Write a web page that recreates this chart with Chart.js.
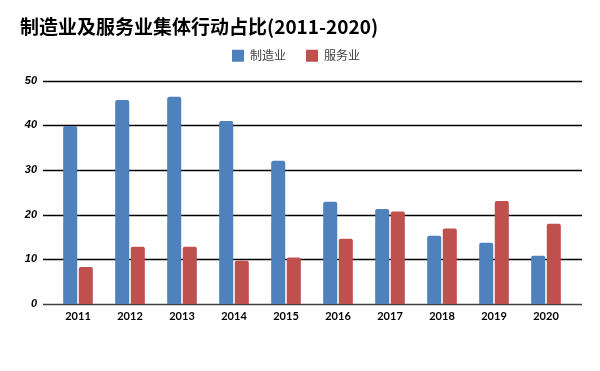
<!DOCTYPE html>
<html>
<head>
<meta charset="utf-8">
<script src="https://cdn.jsdelivr.net/npm/chart.js@4"></script>
<style>
  html, body { margin: 0; padding: 0; background: #fff; }
  #wrap { width: 600px; height: 371px; position: relative; }
</style>
</head>
<body>
<div id="wrap"><canvas id="myBarChart"></canvas></div>
<script>
const years = ['2011', '2012', '2013', '2014', '2015', '2016', '2017', '2018', '2019', '2020'];
const manufacturing = [39.9, 45.7, 46.4, 41.0, 32.1, 22.9, 21.3, 15.3, 13.7, 10.8];
const services = [8.3, 12.8, 12.8, 9.7, 10.4, 14.6, 20.7, 16.9, 23.1, 18.0];
const yTicks = [0, 10, 20, 30, 40, 50];

const cjk = '"Noto Sans CJK SC", "Noto Sans", sans-serif';
const latin = 'Lato, "Liberation Sans", sans-serif';

// gridlines in the reference run a bit past the bars on both sides
const gridPlugin = {
  id: 'wideGrid',
  beforeLayout(chart) {
    // extra room under the legend, like the original
    const lg = chart.legend;
    if (lg && !lg._extra) {
      const fit = lg.fit;
      lg.fit = function() { fit.call(this); this.height += 9; };
      lg._extra = true;
    }
  },
  beforeDatasetsDraw(chart) {
    const ctx = chart.ctx;
    const area = chart.chartArea;
    const y = chart.scales.y;
    ctx.save();
    yTicks.forEach(v => {
      const py = Math.round(y.getPixelForValue(v)) + 0.5;
      ctx.beginPath();
      ctx.lineWidth = 1.5;
      ctx.strokeStyle = v === 0 ? '#404040' : '#000000';
      ctx.moveTo(area.left - 9, py);
      ctx.lineTo(area.right + 10, py);
      ctx.stroke();
    });
    ctx.restore();
  }
};

const ctx = document.getElementById('myBarChart').getContext('2d');
const myBarChart = new Chart(ctx, {
  type: 'bar',
  data: {
    labels: years,
    datasets: [{
      label: '制造业',
      data: manufacturing,
      backgroundColor: '#4F81BD',
      borderRadius: { topLeft: 2, topRight: 2 },
      borderSkipped: 'bottom'
    }, {
      label: '服务业',
      data: services,
      backgroundColor: '#C0504D',
      borderRadius: { topLeft: 2, topRight: 2 },
      borderSkipped: 'bottom'
    }]
  },
  plugins: [gridPlugin],
  options: {
    responsive: true,
    maintainAspectRatio: false,
    animation: false,
    categoryPercentage: 0.6,
    barPercentage: 0.9,
    layout: { padding: { left: 20, right: 28, top: 0, bottom: 47 } },
    plugins: {
      title: {
        display: true,
        text: '制造业及服务业集体行动占比(2011-2020)',
        align: 'start',
        color: '#000',
        font: { family: cjk, size: 19, weight: 'bold' },
        padding: { top: 15, bottom: -8 }
      },
      legend: {
        display: true,
        position: 'top',
        labels: {
          boxWidth: 12,
          boxHeight: 12,
          padding: 20,
          color: '#404040',
          font: { family: cjk, size: 12 }
        }
      },
      tooltip: { enabled: false }
    },
    scales: {
      x: {
        grid: { display: false, drawTicks: false },
        border: { display: false },
        ticks: {
          color: '#000',
          padding: 6,
          font: { family: latin, size: 11, weight: 'bold' }
        },
        afterFit(scale) { scale.height = 20; }
      },
      y: {
        min: 0,
        max: 50,
        afterBuildTicks(scale) { scale.ticks = yTicks.map(v => ({ value: v })); },
        grid: { display: false, drawTicks: false },
        border: { display: false },
        ticks: {
          color: '#000',
          padding: 15,
          font: { family: '"Liberation Sans", sans-serif', size: 11, weight: 'bold', style: 'italic' }
        },
        afterFit(scale) { scale.width = 32; }
      }
    }
  }
});
</script>
</body>
</html>
